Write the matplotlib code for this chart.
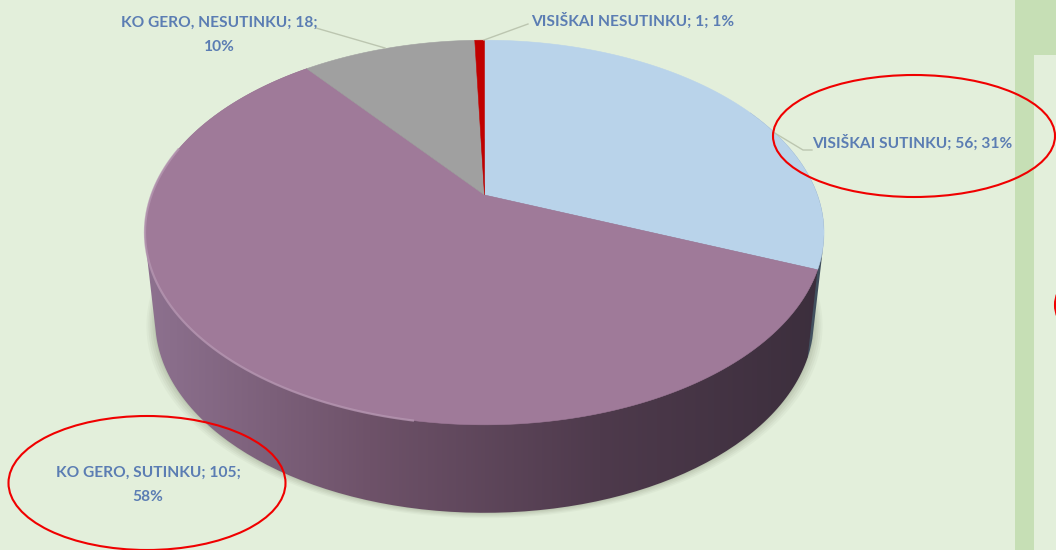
"""Perspective 3D pie of survey answers with hand-drawn red ellipses."""

import matplotlib

matplotlib.use("Agg")
import matplotlib.pyplot as plt
import numpy as np
from matplotlib.colors import LinearSegmentedColormap
from matplotlib.patches import Ellipse, PathPatch, Polygon, Rectangle
from matplotlib.path import Path

categories = ["VISIŠKAI SUTINKU", "KO GERO, SUTINKU", "KO GERO, NESUTINKU", "VISIŠKAI NESUTINKU"]
counts = [56, 105, 18, 1]
percents = [31, 58, 10, 1]
top_colors = ["#B9D3EA", "#9F7A99", "#A0A0A0", "#C00000"]
side_colors = [
    ["#5A6B7C", "#3C4A58"],
    ["#8E7290", "#6E5269", "#4E3A4C", "#3B2E3C"],
    ["#777777", "#555555"],
    ["#800000", "#600000"],
]

BG = "#E3EFDB"
BAND = "#C6DFB5"
TEXT = "#5B7DB3"
FONT = ["Lato", "DejaVu Sans"]

# projection of the pie disc to pixels
CX, CY = 484.5, 195
A, B, K = 333, 185, 0.195
DEPTH, SHRINK = 88, 0.97


def rim(theta, bottom=False):
    """Pixel coords of the disc edge, theta clockwise from 12 o'clock (radians)."""
    u, v = np.sin(theta), np.cos(theta)
    w = 1 + K * v
    x, y = A * u / w, -B * v / w
    if bottom:
        return CX + x * SHRINK, CY + y + DEPTH
    return CX + x, CY + y


def hull(pts):
    """Convex hull (monotone chain), gives the wall its straight side silhouette."""
    pts = sorted(map(tuple, pts))

    def half(seq):
        out = []
        for p in seq:
            while len(out) > 1 and ((out[-1][0] - out[-2][0]) * (p[1] - out[-2][1])
                                    - (out[-1][1] - out[-2][1]) * (p[0] - out[-2][0])) <= 0:
                out.pop()
            out.append(p)
        return out[:-1]

    return np.array(half(pts) + half(pts[::-1]))


fig = plt.figure(figsize=(10.56, 5.5), dpi=100, facecolor=BG)
ax = fig.add_axes([0, 0, 1, 1])
ax.axis("off")

# right-hand page strip
ax.add_patch(Rectangle((1015, 0), 41, 550, color=BAND, lw=0, zorder=1))
ax.add_patch(Rectangle((1034, 55), 22, 495, color=BG, lw=0, zorder=2))

edges = np.radians(np.cumsum([0] + counts) / sum(counts) * 360)
full = np.linspace(0, 2 * np.pi, 361)

# soft shadow under the pie
for grow, alpha in zip([9, 7, 5, 3, 1], [0.05, 0.06, 0.07, 0.08, 0.1]):
    sx, sy = rim(full, bottom=True)
    ax.add_patch(Polygon(np.c_[CX + (sx - CX) * (1 + grow / 340), sy + grow * 0.6],
                         color="#66705A", alpha=alpha, lw=0, zorder=3))

# side walls, gradient running left to right
for t0, t1, stops in zip(edges[:-1], edges[1:], side_colors):
    th = np.linspace(t0, t1, 200)
    xt, yt = rim(th)
    xb, yb = rim(th, bottom=True)
    outline = hull(np.c_[np.r_[xt, xb], np.r_[yt, yb]])
    wall = PathPatch(Path(np.r_[outline, outline[:1]]), fc="none", ec="none", zorder=4)
    ax.add_patch(wall)
    cmap = LinearSegmentedColormap.from_list("wall", stops)
    lo, hi = (CX - 345, CX + 345) if len(stops) > 2 else (750, 830)
    im = ax.imshow(np.linspace(0, 1, 256)[None, :], cmap=cmap, aspect="auto",
                   extent=(lo, hi, 520, 30), zorder=4)
    im.set_clip_path(wall)

# top face
for t0, t1, color in zip(edges[:-1], edges[1:], top_colors):
    th = np.linspace(t0, t1, 200)
    xt, yt = rim(th)
    ax.add_patch(Polygon(np.c_[np.r_[CX, xt], np.r_[CY, yt]], fc=color, ec=color, lw=0.4, zorder=5))

# lighter bevel along the front-left edge of the big slice
xt, yt = rim(np.radians(np.linspace(190, 285, 200)))
ax.plot(xt, yt, color="#B596B1", lw=1.6, alpha=0.8, zorder=6)

# leader lines
leader_x = [[316, 385], [484, 528], [773, 803, 812]]
leader_y = [[28, 48], [40, 24], [132, 150, 150]]
for lx, ly in zip(leader_x, leader_y):
    ax.plot(lx, ly, color="#BCC6B0", lw=1, zorder=6)

# data labels
label_kw = dict(color=TEXT, family=FONT, fontweight="bold", fontsize=11.2, zorder=7)
lab = [f"{c}; {n}; {p}%" for c, n, p in zip(categories, counts, percents)]
ax.text(812, 143, lab[0], ha="left", va="center", **label_kw)
ax.text(531, 21, lab[3], ha="left", va="center", **label_kw)
ax.text(219, 35, f"{categories[2]}; {counts[2]};\n{percents[2]}%", ha="center", va="center",
        linespacing=1.9, **label_kw)
ax.text(148, 485, f"{categories[1]}; {counts[1]};\n{percents[1]}%", ha="center", va="center",
        linespacing=1.9, **label_kw)

# red ellipses drawn over the chart
ax.add_patch(Ellipse((914, 136), 282, 122, fc="none", ec="#F00000", lw=1.5, zorder=8))
ax.add_patch(Ellipse((147, 483), 277, 134, fc="none", ec="#F00000", lw=1.5, zorder=8))
ax.add_patch(Ellipse((1201, 305), 292, 130, fc="none", ec="#F00000", lw=1.5, zorder=8))

ax.set_xlim(0, 1056)
ax.set_ylim(550, 0)

fig.savefig("out.png", dpi=100, facecolor=BG)
plt.close(fig)
